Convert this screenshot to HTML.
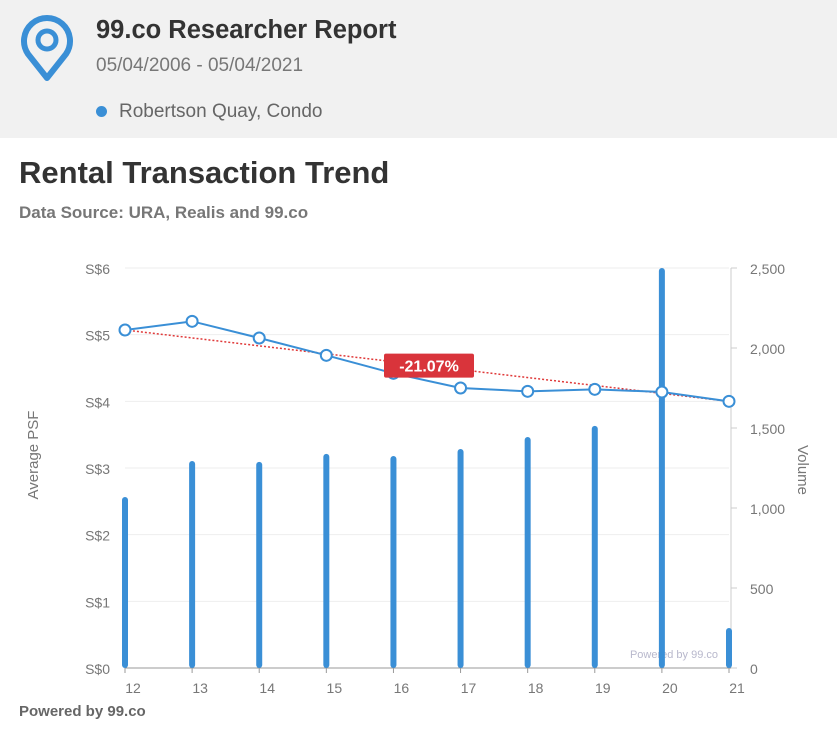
<!DOCTYPE html>
<html><head><meta charset="utf-8"><style>
body{margin:0;width:837px;height:729px;background:#fff;font-family:"Liberation Sans",sans-serif;overflow:hidden;position:relative}
.hdr{position:absolute;left:0;top:0;width:837px;height:138px;background:#f1f1f1}
</style></head><body>
<div class="hdr">
<svg style="position:absolute;left:20px;top:14px" width="54" height="68" viewBox="0 0 54 68">
<path d="M27 64 L8 40 A23 23 0 1 1 46 40 Z" fill="none" stroke="#3a8fd6" stroke-width="6" stroke-linejoin="round"/>
<circle cx="27" cy="26" r="9" fill="none" stroke="#3a8fd6" stroke-width="5"/>
</svg>
<div style="position:absolute;left:96px;top:16px;font-size:25.5px;font-weight:bold;color:#333">99.co Researcher Report</div>
<div style="position:absolute;left:96px;top:55px;font-size:19px;color:#777">05/04/2006 - 05/04/2021</div>
<div style="position:absolute;left:96px;top:101px;font-size:19px;color:#666"><span style="display:inline-block;width:11px;height:11px;border-radius:50%;background:#3a8fd6;margin-right:12px"></span>Robertson Quay, Condo</div>
</div>
<div style="position:absolute;left:19px;top:155px;font-size:31px;font-weight:bold;color:#333">Rental Transaction Trend</div>
<div style="position:absolute;left:19px;top:203px;font-size:17px;font-weight:bold;color:#777">Data Source: URA, Realis and 99.co</div>
<svg id="chart" width="837" height="729" style="position:absolute;left:0;top:0"></svg>
<div style="position:absolute;left:19px;top:703px;font-size:15px;font-weight:bold;color:#666">Powered by 99.co</div>
<script>
const years=["12","13","14","15","16","17","18","19","20","21"];
const psf=[5.07,5.2,4.95,4.69,4.42,4.2,4.15,4.18,4.14,4.0];
const volume=[1069,1294,1288,1338,1325,1369,1444,1513,2500,250];
const leftTicks=[0,1,2,3,4,5,6];
const rightTicks=[0,500,1000,1500,2000,2500];
const changeLabel="-21.07%";
const svg=document.getElementById('chart');
const NS='http://www.w3.org/2000/svg';
const x0=125,x1=729,yb=668,yt=268;
const xs=i=>x0+i*(x1-x0)/(years.length-1);
const yl=v=>yb-v*(yb-yt)/6;
const yr=v=>yb-v*(yb-yt)/2500;
function el(t,a,txt){const e=document.createElementNS(NS,t);for(const k in a)e.setAttribute(k,a[k]);if(txt!==undefined)e.textContent=txt;svg.appendChild(e);return e;}
leftTicks.forEach(v=>{
 const g=el('line',{x1:x0,x2:x1,y1:yl(v),y2:yl(v),stroke:'#eeeeee'});
 
 
 const t=el('text',{x:110,y:yl(v)+6,'text-anchor':'end','font-size':14,fill:'#777'},'S$'+v);
 
 
});
const ax=el('line',{x1:731,x2:731,y1:yt,y2:yb,stroke:'#ccc'});


rightTicks.forEach(v=>{
 el('line',{x1:731,x2:737,y1:yr(v),y2:yr(v),stroke:'#ccc'});
 const t=el('text',{x:750,y:yr(v)+6,'font-size':14,fill:'#777'},v.toLocaleString('en-US'));
 
 
});
const xa=el('line',{x1:x0,x2:731,y1:yb,y2:yb,stroke:'#999'});


years.forEach((y,i)=>{
 el('line',{x1:xs(i),x2:xs(i),y1:yb,y2:yb+5,stroke:'#999'});
 const t=el('text',{x:xs(i)+8,y:693,'text-anchor':'middle','font-size':14,fill:'#777'},y);
 
 
});
let t=el('text',{x:38,y:455,'text-anchor':'middle','font-size':15,fill:'#777',transform:'rotate(-90 38 455)'},'Average PSF');


t=el('text',{x:798,y:470,'text-anchor':'middle','font-size':15,fill:'#777',transform:'rotate(90 798 470)'},'Volume');


t=el('text',{x:718,y:658,'text-anchor':'end','font-size':11,fill:'#b8b8cc'},'Powered by 99.co');


volume.forEach((v,i)=>{
 const b=el('rect',{x:xs(i)-3,y:yr(v),width:6,height:yb-yr(v),rx:3,fill:'#3a8fd6'});
 
 
});
const n=psf.length-1;
const tr=el('line',{x1:xs(0),y1:yl(psf[0]),x2:xs(n),y2:yl(psf[n]),stroke:'#e03a3a','stroke-width':1.5,'stroke-dasharray':'2,2'});


const ln=el('polyline',{points:psf.map((v,i)=>xs(i)+','+yl(v)).join(' '),fill:'none',stroke:'#3a8fd6','stroke-width':2});


psf.forEach((v,i)=>{
 const c=el('circle',{cx:xs(i),cy:yl(v),r:5.5,fill:'#fff',stroke:'#3a8fd6','stroke-width':2});
 
 
});
const mx=(xs(0)+xs(n))/2, my=(yl(psf[0])+yl(psf[n]))/2;
const lb=el('rect',{x:mx-43,y:my-12,width:90,height:24,rx:2,fill:'#d9343b'});


t=el('text',{x:mx+2,y:my+6,'text-anchor':'middle','font-size':16,'font-weight':'bold',fill:'#fff'},changeLabel);


</script>
</body></html>
